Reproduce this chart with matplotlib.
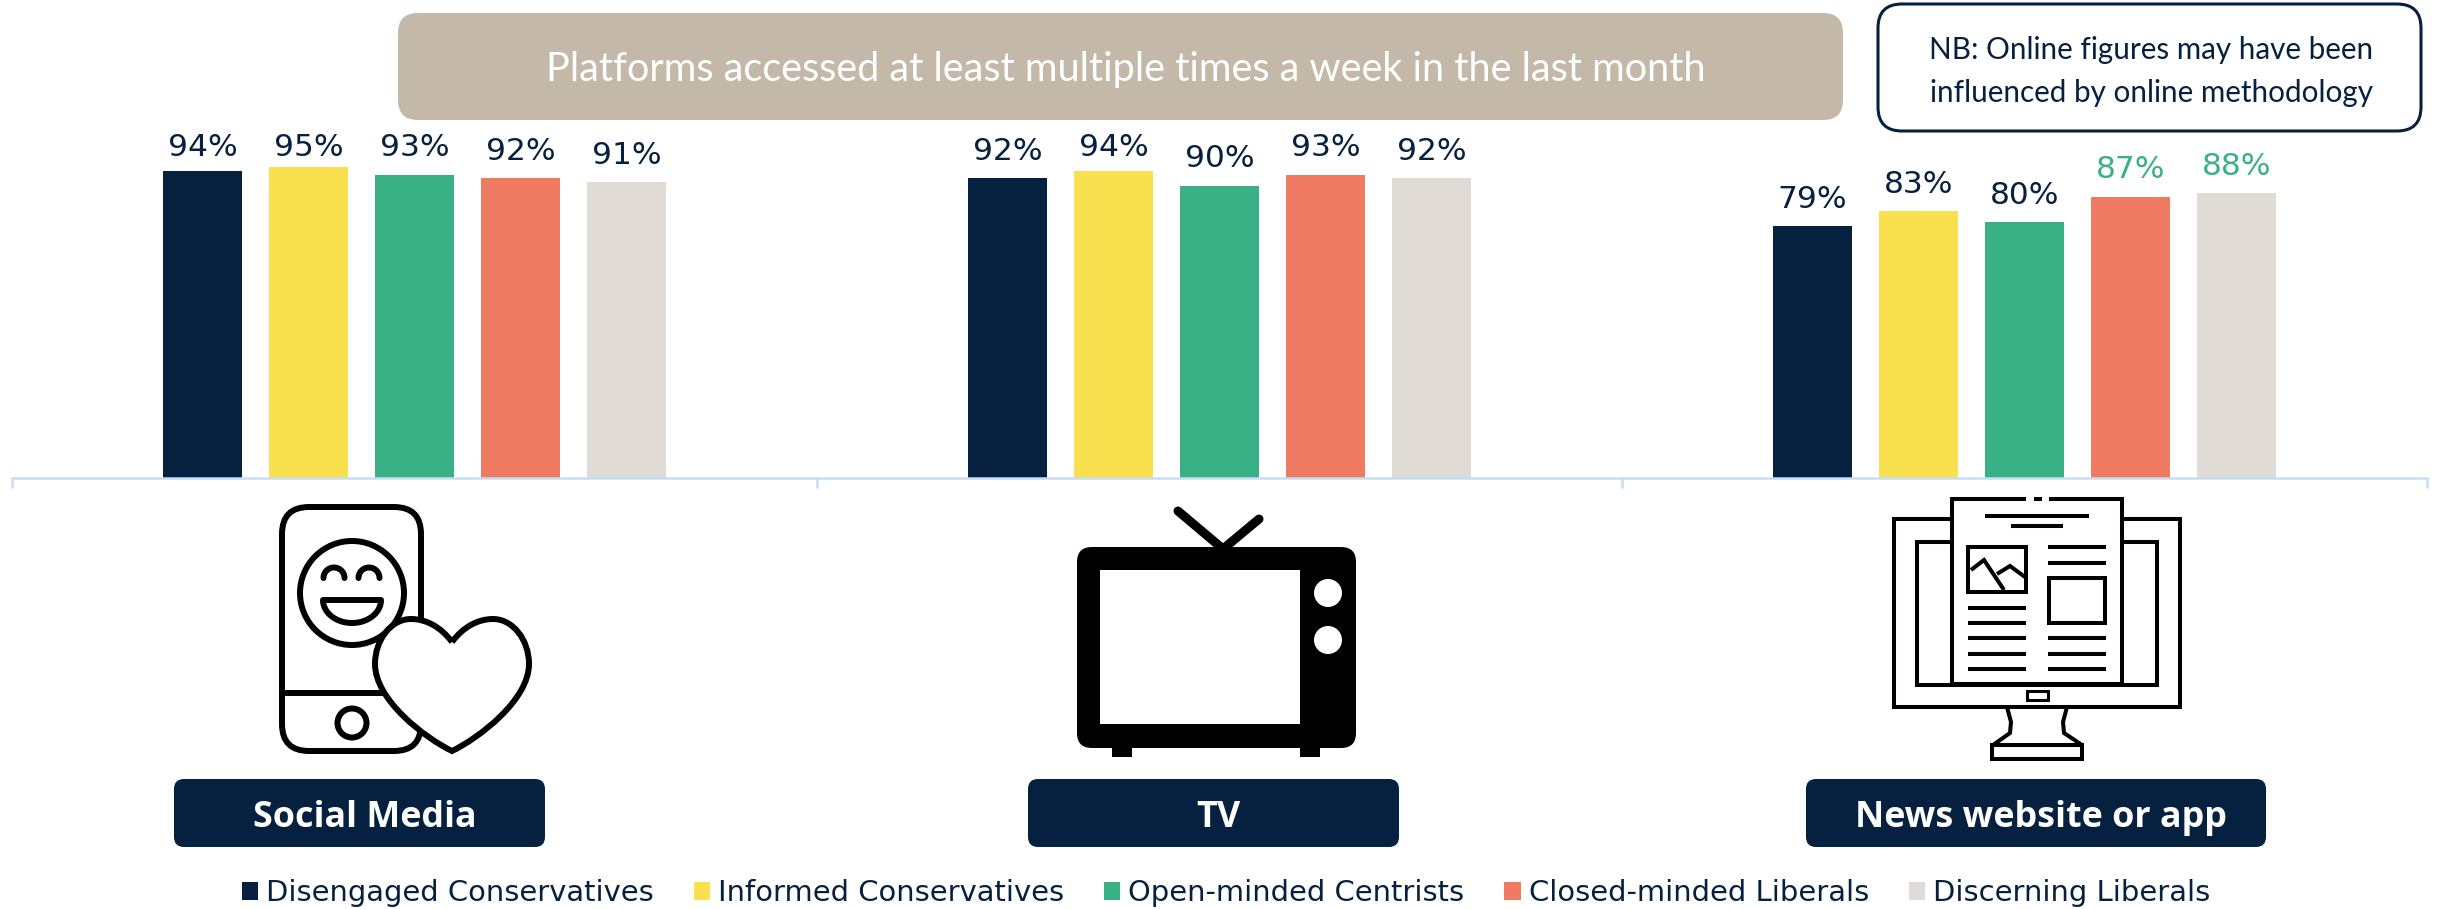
import matplotlib

matplotlib.use("Agg")
import matplotlib.pyplot as plt
import numpy as np
from matplotlib.patches import Circle, FancyBboxPatch, PathPatch, Polygon, Rectangle
from matplotlib.path import Path

W, H = 2438, 909

platforms = ["Social Media", "TV", "News website or app"]
segments = [
    "Disengaged Conservatives",
    "Informed Conservatives",
    "Open-minded Centrists",
    "Closed-minded Liberals",
    "Discerning Liberals",
]
disengaged_con = [94, 92, 79]
informed_con = [95, 94, 83]
open_centrists = [93, 90, 80]
closed_lib = [92, 93, 87]
discerning_lib = [91, 92, 88]
series = [disengaged_con, informed_con, open_centrists, closed_lib, discerning_lib]

NAVY = "#06203F"
GREEN = "#39B184"
colors = [NAVY, "#F9E04F", GREEN, "#EE7B62", "#E0DCD5"]
AXIS_BLUE = "#C6DDF8"

# values that get picked out in green above the bars
highlighted = {(3, 2), (4, 2)}

fig = plt.figure(figsize=(W / 100, H / 100), dpi=100, facecolor="white")

# main bar axes, y axis is truncated so it doesn't start at zero
ax = fig.add_axes([12 / W, 1 - 478 / H, (2427 - 12) / W, 478 / H])
ax.set_xlim(-0.5, 2.5)
ax.set_ylim(10.3, 10.3 + 478 / 3.667)
x = np.arange(len(platforms))
step = 0.1317
bar_w = 0.0977
handles = []
for i, vals in enumerate(series):
    bars = ax.bar(x + (i - 2) * step, vals, bar_w, color=colors[i], label=segments[i])
    handles.append(bars)
    for j, v in enumerate(vals):
        # labels stop rising above the 93 mark so they stay clear of the banner
        ax.annotate(
            f"{v}%", (x[j] + (i - 2) * step, min(v, 93)), xytext=(0, 9), textcoords="offset points",
            ha="center", va="bottom", fontsize=22.5,
            color=GREEN if (i, j) in highlighted else NAVY,
        )

for side in ["top", "left", "right"]:
    ax.spines[side].set_visible(False)
ax.spines["bottom"].set_color(AXIS_BLUE)
ax.spines["bottom"].set_linewidth(1.8)
ax.set_yticks([])
ax.set_xticks([-0.5, 0.5, 1.5, 2.5])
ax.set_xticklabels([])
ax.tick_params(axis="x", direction="out", length=7.5, width=1.8, color=AXIS_BLUE)

# overlay in pixel coordinates for the banner, icons and name plates
ov = fig.add_axes([0, 0, 1, 1], zorder=5)
ov.set_xlim(0, W)
ov.set_ylim(H, 0)
ov.axis("off")
ov.patch.set_alpha(0)


def rounded(x0, y0, x1, y1, r, fc, ec="none", lw=0, z=2):
    box = FancyBboxPatch(
        (x0 + r, y0 + r), x1 - x0 - 2 * r, y1 - y0 - 2 * r,
        boxstyle=f"round,pad={r},rounding_size={r}",
        fc=fc, ec=ec, lw=lw, zorder=z,
    )
    ov.add_patch(box)


def stroke(points, lw=4.3, cap="butt", z=3, color="black"):
    xs, ys = zip(*points)
    ov.plot(xs, ys, color=color, lw=lw, solid_capstyle=cap, solid_joinstyle="miter", zorder=z)


def draw_phone():
    rounded(282, 507, 421, 751, 27, "white", "black", 4.3)
    stroke([(281, 693), (400, 693)])
    ov.add_patch(Circle((352, 723), 14.5, fc="white", ec="black", lw=4.3, zorder=3))
    ov.add_patch(Circle((352, 593), 52, fc="white", ec="black", lw=4.3, zorder=3))
    # eyes
    for cx in (334, 369):
        t = np.linspace(np.pi, 2 * np.pi, 30)
        ov.plot(cx + 10.5 * np.cos(t), 578 + 10.5 * np.sin(t), color="black", lw=4.3,
                solid_capstyle="round", zorder=4)
    # smile
    t = np.linspace(0, np.pi, 40)
    smile = np.column_stack([352 + 29 * np.cos(t), 600 + 23 * np.sin(t)])
    ov.add_patch(Polygon(smile, closed=True, fc="white", ec="black", lw=4.3, joinstyle="round", zorder=4))
    # heart sits on top of the phone
    verts = [
        (452, 642),
        (441, 627), (426, 619), (411, 619),
        (391, 619), (375, 640), (375, 664),
        (375, 700), (425, 738), (452, 751),
        (479, 738), (529, 700), (529, 664),
        (529, 640), (513, 619), (493, 619),
        (478, 619), (463, 627), (452, 642),
    ]
    codes = [Path.MOVETO] + [Path.CURVE4] * 18
    ov.add_patch(PathPatch(Path(verts, codes), fc="white", ec="black", lw=4.3, joinstyle="miter", zorder=5))


def draw_tv():
    stroke([(1223, 549), (1178, 511)], lw=6.5, cap="round")
    stroke([(1223, 549), (1259, 519)], lw=6.5, cap="round")
    rounded(1077, 547, 1356, 748, 15, "black", z=3)
    ov.add_patch(Rectangle((1100, 570), 200, 154, fc="white", zorder=4))
    for cy in (593, 640):
        ov.add_patch(Circle((1328, cy), 14, fc="white", zorder=4))
    for fx in (1112, 1300):
        ov.add_patch(Rectangle((fx, 747), 20, 10, fc="black", zorder=3))


def draw_monitor():
    ov.add_patch(Rectangle((1894, 519), 286, 188, fc="white", ec="black", lw=2.9, zorder=3))
    ov.add_patch(Rectangle((1917, 542), 240, 143, fc="white", ec="black", lw=2.9, zorder=3))
    # page in front of the screen, top edge is broken up
    ov.add_patch(Rectangle((1952, 499), 170, 185, fc="white", zorder=4))
    stroke([(2026, 499), (1952, 499), (1952, 684), (2122, 684), (2122, 499), (2049, 499)], lw=2.9, z=5)
    stroke([(2034, 499), (2042, 499)], lw=2.9, z=5)
    stroke([(1985, 516), (2089, 516)], lw=2.9, z=5)
    stroke([(2011, 526), (2063, 526)], lw=2.9, z=5)
    ov.add_patch(Rectangle((1968, 547), 58, 45, fc="white", ec="black", lw=2.9, zorder=5))
    stroke([(1971, 570), (1984, 560), (2004, 590)], lw=2.9, z=5)
    stroke([(1997, 574), (2010, 566), (2025, 577)], lw=2.9, z=5)
    ov.add_patch(Rectangle((2049, 578), 56, 45, fc="white", ec="black", lw=2.9, zorder=5))
    for ly in (547, 563, 638, 654, 669):
        stroke([(2048, ly), (2106, ly)], lw=2.9, z=5)
    for ly in (608, 623, 638, 654, 669):
        stroke([(1968, ly), (2026, ly)], lw=2.9, z=5)
    ov.add_patch(Rectangle((2027, 691), 21, 9, fc="white", ec="black", lw=2.2, zorder=5))
    # stand and base
    stroke([(2007, 707), (2011, 722), (2010, 733), (1993, 745)], lw=2.9)
    stroke([(2067, 707), (2063, 722), (2064, 733), (2082, 745)], lw=2.9)
    ov.add_patch(Rectangle((1992, 745), 90, 14, fc="white", ec="black", lw=2.9, zorder=3))


draw_phone()
draw_tv()
draw_monitor()

# banner and note
rounded(398, 13, 1843, 120, 20, "#C4B8A9")
ov.text(1126, 70, "Platforms accessed at least multiple times a week in the last month",
        color="white", fontsize=28.5, family="Lato", ha="center", va="center", zorder=6)
rounded(1878, 4, 2421, 131, 24, "white", NAVY, 2.2)
ov.text(2151, 50, "NB: Online figures may have been", color=NAVY, fontsize=21.3, family="Lato",
        ha="center", va="center", zorder=6)
ov.text(2151, 93, "influenced by online methodology", color=NAVY, fontsize=21.3, family="Lato",
        ha="center", va="center", zorder=6)

# platform name plates
plates = [(174, 545), (1028, 1399), (1806, 2266)]
for name, (x0, x1) in zip(platforms, plates):
    rounded(x0, 779, x1, 847, 10, NAVY)
    ov.text((x0 + x1) / 2 + 5, 818, name, color="white", fontsize=25.8, family="Open Sans", weight="bold",
            ha="center", va="center", zorder=6)

fig.legend(
    handles, segments, loc="center", bbox_to_anchor=(1226 / W, 1 - 893 / H), ncol=5, frameon=False,
    fontsize=20.85, labelcolor=NAVY, handlelength=0.56, handleheight=0.56, handletextpad=0.28,
    columnspacing=1.38, borderpad=0, borderaxespad=0,
)

fig.savefig("out.png", dpi=100, facecolor="white")
